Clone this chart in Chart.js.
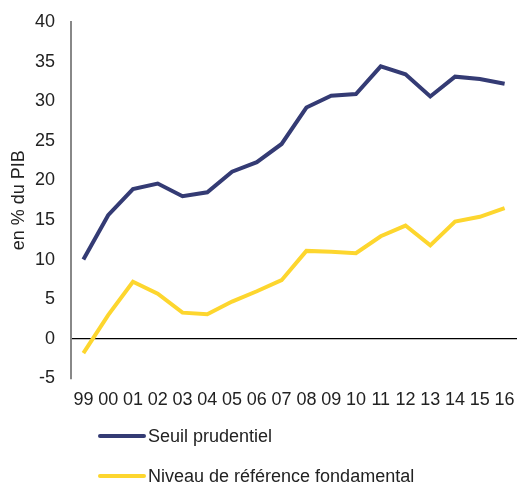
<!DOCTYPE html>
<html>
<head>
<meta charset="utf-8">
<script src="https://cdn.jsdelivr.net/npm/chart.js@4/dist/chart.umd.min.js"></script>
<style>
  body { margin: 0; background: #fff; }
  #wrap { position: relative; width: 517px; height: 484px; }
</style>
</head>
<body>
<div id="wrap"><canvas id="chart"></canvas></div>
<script>
// years shown on the x axis
const years = ['99', '00', '01', '02', '03', '04', '05', '06', '07', '08', '09', '10', '11', '12', '13', '14', '15', '16'];

// series, in % of GDP
const seuilPrudentiel = [10.0, 15.6, 18.9, 19.6, 18.0, 18.5, 21.1, 22.3, 24.6, 29.2, 30.7, 30.9, 34.4, 33.4, 30.6, 33.1, 32.8, 32.2];
const niveauReference = [-1.8, 3.0, 7.2, 5.7, 3.3, 3.1, 4.7, 6.0, 7.4, 11.1, 11.0, 10.8, 12.95, 14.3, 11.8, 14.8, 15.4, 16.5];

const seriesNames = ['Seuil prudentiel', 'Niveau de référence fondamental'];
const seriesColors = ['#343b74', '#fdd62e'];

const yTicks = { min: -5, max: 40, step: 5 };
const yTitle = 'en % du PIB';

const FONT = '"Liberation Sans", Arial, sans-serif';
Chart.defaults.font.family = FONT;
Chart.defaults.font.size = 18;
Chart.defaults.color = '#222';

// legend drawn under the x axis, one row per dataset
const stackedLegend = {
    id: 'stackedLegend',
    afterDraw(chart) {
        const c = chart.ctx;
        const rows = [436, 476];
        c.save();
        c.font = '18px ' + FONT;
        c.textBaseline = 'middle';
        c.fillStyle = '#222';
        chart.data.datasets.forEach((ds, i) => {
            const y = rows[i];
            c.strokeStyle = ds.borderColor;
            c.lineWidth = 4;
            c.lineCap = 'round';
            c.beginPath();
            c.moveTo(100, y);
            c.lineTo(144, y);
            c.stroke();
            c.fillText(ds.label, 148, y + 1);
        });
        c.restore();
    }
};

const ctx = document.getElementById('chart').getContext('2d');
const chart = new Chart(ctx, {
    type: 'line',
    data: {
        labels: years,
        datasets: [seuilPrudentiel, niveauReference].map((values, i) => ({
            label: seriesNames[i],
            data: values,
            borderColor: seriesColors[i],
            backgroundColor: seriesColors[i],
            borderWidth: 4,
            pointRadius: 0,
            tension: 0,
            fill: false
        }))
    },
    plugins: [stackedLegend],
    options: {
        responsive: true,
        maintainAspectRatio: false,
        animation: false,
        layout: { padding: { top: 22, right: 0, left: 0, bottom: 62 } },
        plugins: {
            legend: { display: false },
            tooltip: { enabled: false }
        },
        scales: {
            x: {
                offset: true,
                grid: { display: false, drawTicks: false },
                border: { display: false },
                ticks: { padding: 11, maxRotation: 0, autoSkip: false, color: '#222' },
                afterFit: scale => { scale.paddingRight = 0; scale.paddingLeft = 0; }
            },
            y: {
                min: yTicks.min,
                max: yTicks.max,
                ticks: { stepSize: yTicks.step, padding: 16, color: '#222' },
                grid: {
                    drawTicks: false,
                    color: c => (c.tick && c.tick.value === 0 ? '#000' : 'rgba(0,0,0,0)'),
                    lineWidth: 1.2
                },
                border: { display: true, color: '#888', width: 2 },
                title: { display: true, text: yTitle, padding: { top: 8, bottom: 0 }, color: '#222' },
                afterFit: scale => { scale.width = 71; scale.paddingTop = 0; scale.paddingBottom = 0; }
            }
        }
    }
});
</script>
</body>
</html>
